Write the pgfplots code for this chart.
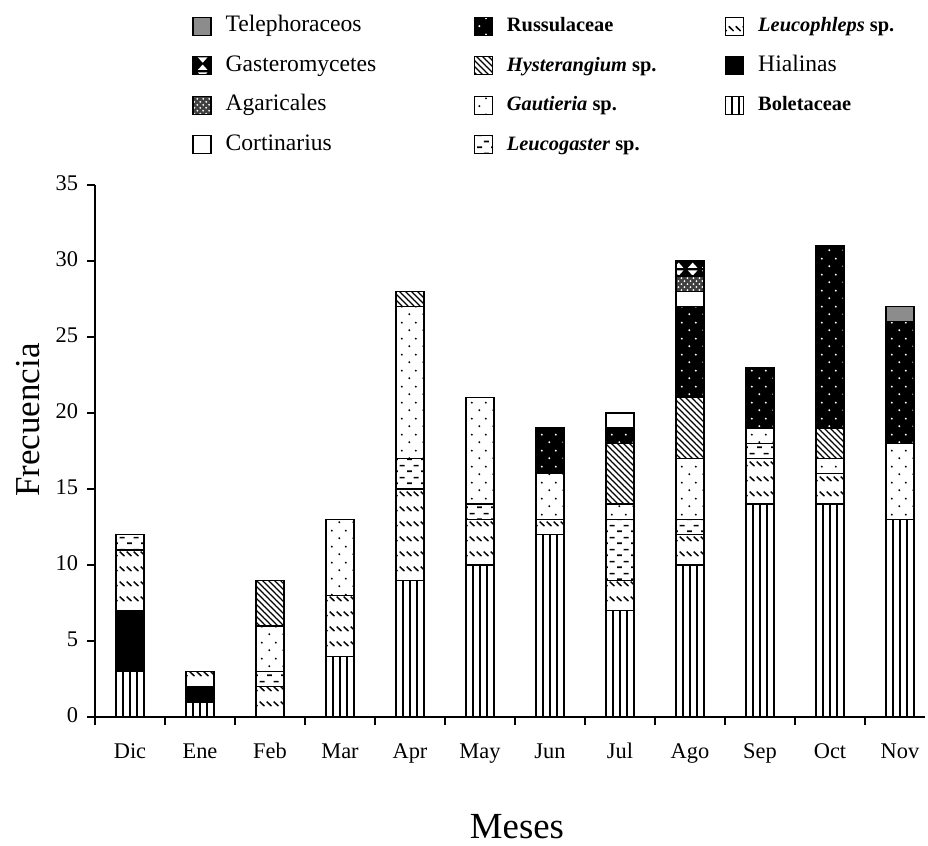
\documentclass[border=0pt]{standalone}
\usepackage{pgfplots}
\usepackage{pgfplotstable}
\pgfplotsset{compat=1.18}
\usepackage{fontspec}
\setmainfont{Liberation Serif}
\usetikzlibrary{patterns}

\pgfdeclarepatternformonly{vlines}{\pgfqpoint{1.5bp}{0bp}}{\pgfqpoint{2.5bp}{3.5bp}}{\pgfqpoint{3.5bp}{3.5bp}}{%
  \pgfsetlinewidth{0.75bp}\pgfpathmoveto{\pgfqpoint{2bp}{-0.1bp}}\pgfpathlineto{\pgfqpoint{2bp}{3.6bp}}\pgfusepath{stroke}}
\pgfdeclarepatternformonly{lph}{\pgfqpoint{0bp}{0bp}}{\pgfqpoint{3.5bp}{7.5bp}}{\pgfqpoint{3.5bp}{7.5bp}}{%
  \pgfsetlinewidth{0.8bp}\pgfpathmoveto{\pgfqpoint{0.4bp}{5bp}}\pgfpathlineto{\pgfqpoint{3.1bp}{2.6bp}}\pgfusepath{stroke}}
\pgfdeclarepatternformonly{lgas}{\pgfqpoint{0bp}{0bp}}{\pgfqpoint{7bp}{6bp}}{\pgfqpoint{7bp}{6bp}}{%
  \pgfsetlinewidth{0.9bp}\pgfpathmoveto{\pgfqpoint{0.6bp}{1.5bp}}\pgfpathlineto{\pgfqpoint{3.2bp}{1.5bp}}%
  \pgfpathmoveto{\pgfqpoint{4.1bp}{4.5bp}}\pgfpathlineto{\pgfqpoint{6.7bp}{4.5bp}}\pgfusepath{stroke}}
\pgfdeclarepatternformonly{gdots}{\pgfqpoint{0bp}{0bp}}{\pgfqpoint{7bp}{8bp}}{\pgfqpoint{7bp}{8bp}}{%
  \pgfpathcircle{\pgfqpoint{1.75bp}{2bp}}{0.55bp}\pgfpathcircle{\pgfqpoint{5.25bp}{6bp}}{0.55bp}\pgfusepath{fill}}
\pgfdeclarepatternformonly{hys}{\pgfqpoint{-1bp}{-1bp}}{\pgfqpoint{3bp}{3bp}}{\pgfqpoint{3bp}{3bp}}{%
  \pgfsetlinewidth{0.6bp}\pgfpathmoveto{\pgfqpoint{0bp}{3bp}}\pgfpathlineto{\pgfqpoint{3.1bp}{-0.1bp}}\pgfusepath{stroke}}
\pgfdeclarepatternformonly{hglass}{\pgfqpoint{0bp}{0bp}}{\pgfqpoint{7bp}{7.6bp}}{\pgfqpoint{7bp}{7.6bp}}{%
  \pgfpathmoveto{\pgfqpoint{1bp}{7bp}}\pgfpathlineto{\pgfqpoint{6bp}{7bp}}\pgfpathlineto{\pgfqpoint{3.5bp}{4.3bp}}\pgfpathclose
  \pgfpathmoveto{\pgfqpoint{1bp}{0.6bp}}\pgfpathlineto{\pgfqpoint{6bp}{0.6bp}}\pgfpathlineto{\pgfqpoint{3.5bp}{3.3bp}}\pgfpathclose
  \pgfusepath{fill}}

\pgfplotstableread{
x  Bol Hia Leph Lgas Gau Hys Rus Cor Aga Gas Tel
0  3   4   4    1    0   0   0   0   0   0   0
1  1   1   1    0    0   0   0   0   0   0   0
2  0   0   2    1    3   3   0   0   0   0   0
3  4   0   4    0    5   0   0   0   0   0   0
4  9   0   6    2    10  1   0   0   0   0   0
5  10  0   3    1    7   0   0   0   0   0   0
6  12  0   1    0    3   0   3   0   0   0   0
7  7   0   2    4    1   4   1   1   0   0   0
8  10  0   2    1    4   4   6   1   1   1   0
9  14  0   3    1    1   0   4   0   0   0   0
10 14  0   2    0    1   2   12  0   0   0   0
11 13  0   0    0    5   0   8   0   0   0   1
}\data

\tikzset{
  sBol/.style={fill=white, postaction={pattern=vlines}},
  sHia/.style={fill=black},
  sLeph/.style={fill=white, postaction={pattern=lph}},
  sLgas/.style={fill=white, postaction={pattern=lgas}},
  sGau/.style={fill=white, postaction={pattern=gdots}},
  sHys/.style={fill=white, postaction={pattern=hys}},
  sRus/.style={fill=black, postaction={pattern=gdots, pattern color=white}},
  sCor/.style={fill=white},
  sAga/.style={fill=black!75, postaction={pattern=crosshatch dots, pattern color=white}},
  sGas/.style={fill=black, postaction={pattern=hglass, pattern color=white}},
  sTel/.style={fill=black!45},
}
\newcommand{\nf}{\fontsize{11.8bp}{13bp}\selectfont}
\newcommand{\bff}{\fontsize{10.2bp}{12bp}\selectfont\bfseries}

\begin{document}
\begin{tikzpicture}
\path[use as bounding box] (-47.5bp,-64.5bp) rectangle (416.5bp,358.5bp);
\begin{axis}[
  at={(0,0)}, anchor=south west,
  scale only axis, width=415bp, height=266bp,
  xmin=-0.5, xmax=11.357, ymin=0, ymax=35,
  axis lines*=left,
  axis line style={line width=0.7bp},
  ybar stacked, bar width=14bp,
  every axis plot/.append style={draw=black, line width=0.7bp},
  legend image code/.code={\draw[#1, line width=0.6bp] (0bp,-4.5bp) rectangle (9bp,4.5bp); \path (16bp,0bp);},
  xtick={-0.5,0.5,...,10.5}, xticklabels={},
  extra x ticks={0,1,...,11},
  extra x tick labels={Dic,Ene,Feb,Mar,Apr,May,Jun,Jul,Ago,Sep,Oct,Nov},
  extra x tick style={major tick length=0pt},
  ytick={0,5,...,35},
  tick align=outside, major tick length=4bp,
  tick style={line width=0.7bp, black},
  typeset ticklabels with strut,
  ticklabel style={font=\fontsize{11.2bp}{13bp}\selectfont},
  xticklabel style={yshift=-8bp},
  yticklabel style={xshift=-1bp},
  /pgf/number format/assume math mode=true,
  xlabel={Meses}, ylabel={Frecuencia},
  x label style={at={(axis description cs:0.5084,-0.207)}, anchor=center, inner sep=0pt, font=\fontsize{18.4bp}{20bp}\selectfont},
  y label style={at={(axis description cs:-0.0807,0.558)}, anchor=center, rotate=0, font=\fontsize{17.5bp}{19bp}\selectfont},
  legend columns=3,
  legend style={draw=none, fill=none, at={(0.1096,1.3261)}, anchor=north west,
    column sep=0pt, row sep=9.2bp,
    nodes={inner sep=0pt, text height=8bp, text depth=2.5bp, anchor=west}},
]
\addplot[sBol, forget plot] table[x=x, y=Bol] {\data};
\addplot[sHia, forget plot] table[x=x, y=Hia] {\data};
\addplot[sLeph, forget plot] table[x=x, y=Leph] {\data};
\addplot[sLgas, forget plot] table[x=x, y=Lgas] {\data};
\addplot[sGau, forget plot] table[x=x, y=Gau] {\data};
\addplot[sHys, forget plot] table[x=x, y=Hys] {\data};
\addplot[sRus, forget plot] table[x=x, y=Rus] {\data};
\addplot[sCor, forget plot] table[x=x, y=Cor] {\data};
\addplot[sAga, forget plot] table[x=x, y=Aga] {\data};
\addplot[sGas, forget plot] table[x=x, y=Gas] {\data};
\addplot[sTel, forget plot] table[x=x, y=Tel] {\data};

\addlegendimage{sTel}\addlegendentry{\makebox[124bp][l]{\nf Telephoraceos}}
\addlegendimage{sRus}\addlegendentry{\makebox[109bp][l]{\bff Russulaceae}}
\addlegendimage{sLeph}\addlegendentry{\bff\textit{Leucophleps} sp.}
\addlegendimage{sGas}\addlegendentry{\makebox[124bp][l]{\nf Gasteromycetes}}
\addlegendimage{sHys}\addlegendentry{\makebox[109bp][l]{\bff\textit{Hysterangium} sp.}}
\addlegendimage{sHia}\addlegendentry{\nf Hialinas}
\addlegendimage{sAga}\addlegendentry{\makebox[124bp][l]{\nf Agaricales}}
\addlegendimage{sGau}\addlegendentry{\makebox[109bp][l]{\bff\textit{Gautieria} sp.}}
\addlegendimage{sBol}\addlegendentry{\bff Boletaceae}
\addlegendimage{sCor}\addlegendentry{\makebox[124bp][l]{\nf Cortinarius}}
\addlegendimage{sLgas}\addlegendentry{\makebox[109bp][l]{\bff\textit{Leucogaster} sp.}}
\end{axis}
\end{tikzpicture}
\end{document}
